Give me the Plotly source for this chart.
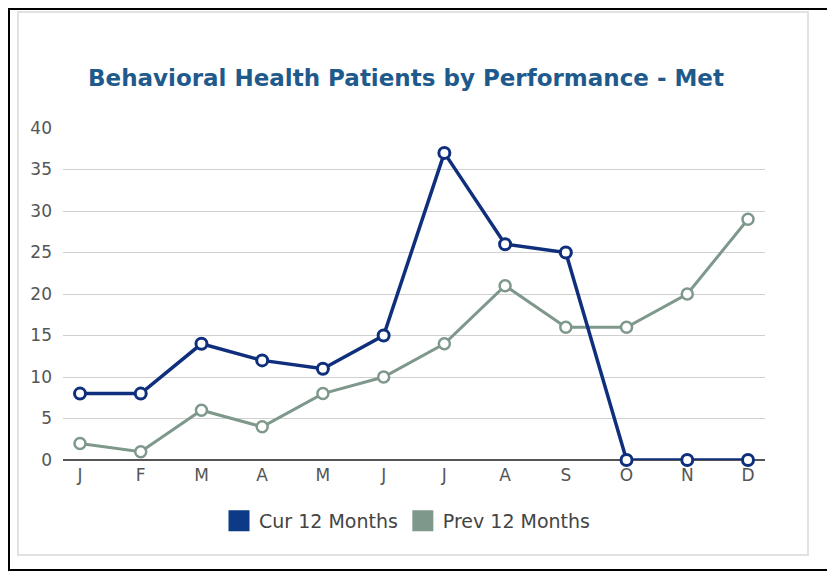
import plotly.graph_objects as go

months = ["J", "F", "M", "A", "M", "J", "J", "A", "S", "O", "N", "D"]
cur_12 = [8, 8, 14, 12, 11, 15, 37, 26, 25, 0, 0, 0]
prev_12 = [2, 1, 6, 4, 8, 10, 14, 21, 16, 16, 20, 29]
y_ticks = [0, 5, 10, 15, 20, 25, 30, 35, 40]

CUR_COLOR = "#0f2f7c"
PREV_COLOR = "#7e988b"
CUR_SWATCH = "#0d3a86"

xs = list(range(len(months)))

fig = go.Figure()
fig.add_trace(go.Scatter(
    x=xs, y=prev_12, mode="lines+markers", name="Prev 12 Months",
    line=dict(color=PREV_COLOR, width=3),
    marker=dict(symbol="circle", size=11, color="white", line=dict(color=PREV_COLOR, width=2.5)),
    showlegend=False, cliponaxis=False,
))
fig.add_trace(go.Scatter(
    x=xs, y=cur_12, mode="lines+markers", name="Cur 12 Months",
    line=dict(color=CUR_COLOR, width=3.5),
    marker=dict(symbol="circle", size=11, color="white", line=dict(color=CUR_COLOR, width=3)),
    showlegend=False, cliponaxis=False,
))
# legend entries (square swatches)
fig.add_trace(go.Scatter(x=[None], y=[None], mode="markers", name="Cur 12 Months",
                         marker=dict(symbol="square", size=16, color=CUR_SWATCH,
                                     line=dict(color=CUR_SWATCH, width=5))))
fig.add_trace(go.Scatter(x=[None], y=[None], mode="markers", name="Prev 12 Months",
                         marker=dict(symbol="square", size=16, color=PREV_COLOR,
                                     line=dict(color=PREV_COLOR, width=5))))

# figure coords are offset by 8px from the screenshot (page margin)
L, T, PW, PH = 55, 120, 702, 332
fig.update_layout(
    width=835, height=578,
    margin=dict(l=L, r=835 - L - PW, t=T, b=578 - T - PH),
    paper_bgcolor="white", plot_bgcolor="white",
    title=dict(text="<b>Behavioral Health Patients by Performance - Met</b>",
               x=(406 - 8) / 835, xanchor="center", y=1 - (78 - 8) / 578, yanchor="middle",
               font=dict(family="DejaVu Sans", size=23, color="#1f5a8c")),
    font=dict(family="DejaVu Sans", size=17, color="#444444"),
    xaxis=dict(range=[-0.28, 11.28], tickmode="array", tickvals=xs, ticktext=months,
               showgrid=False, zeroline=False, showline=False,
               ticks="", ticklen=0, fixedrange=True, ticklabelstandoff=3,
               tickfont=dict(size=17, color="#555555")),
    yaxis=dict(range=[0, 40], tickvals=y_ticks, showgrid=True, gridcolor="#d0d0d0",
               gridwidth=1, zeroline=True, zerolinecolor="#555555", zerolinewidth=2,
               showline=False, ticks="", ticklabelstandoff=10,
               tickfont=dict(size=17, color="#555555")),
    legend=dict(orientation="h", x=(407 - 8) / 835, xanchor="center", xref="container",
                y=1 - (521 - 8) / 578, yanchor="middle",
                yref="container", font=dict(size=19, color="#444444"),
                itemsizing="trace", itemwidth=30, tracegroupgap=0),
)

def px_x(v):
    return (v - L) / PW

def px_y(v):
    return 1 - (v - T) / PH

# inner card
fig.add_shape(type="rect", xref="paper", yref="paper", layer="below",
              x0=px_x(10), x1=px_x(800), y0=px_y(547), y1=px_y(4),
              line=dict(color="#e2e2e2", width=2), fillcolor="white")
# outer black frame
fig.add_shape(type="rect", xref="paper", yref="paper", layer="above",
              x0=px_x(1), x1=px_x(820), y0=px_y(562), y1=px_y(1),
              line=dict(color="black", width=2), fillcolor="rgba(0,0,0,0)")

fig.write_html("out.html")
